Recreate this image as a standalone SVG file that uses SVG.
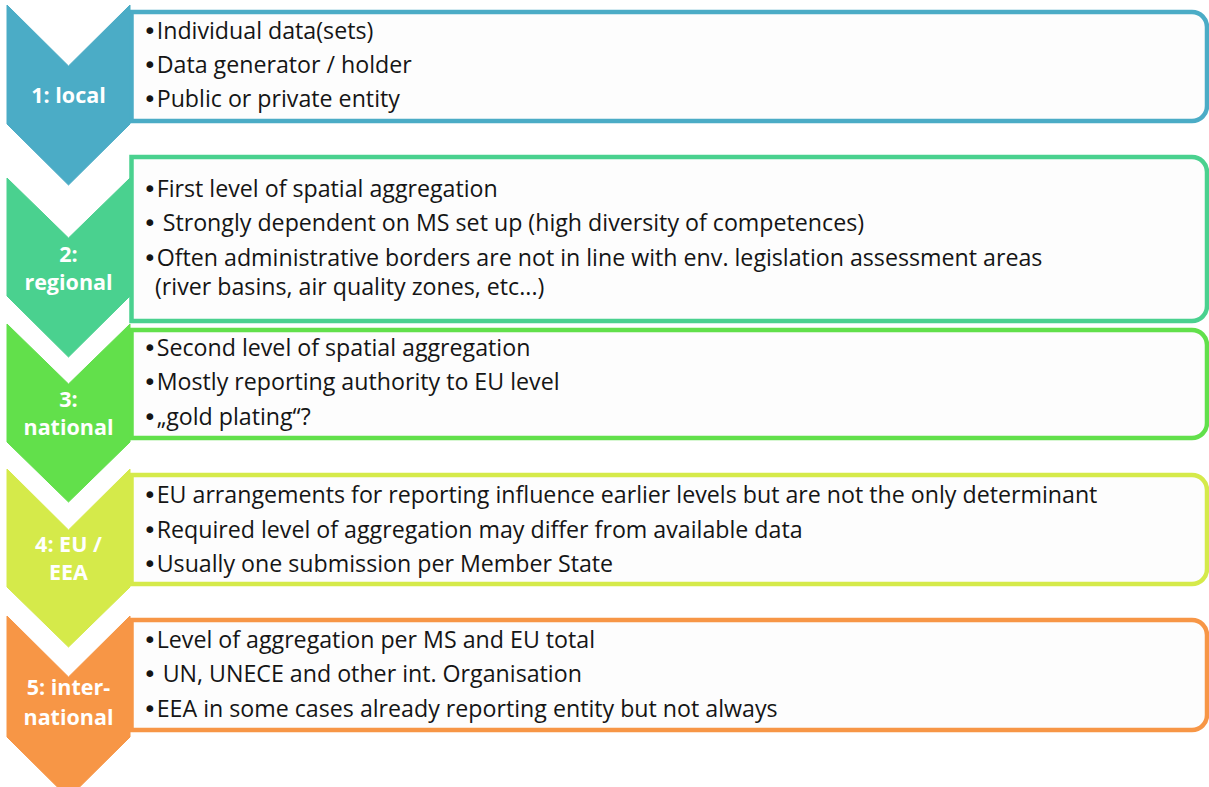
<svg xmlns="http://www.w3.org/2000/svg" width="1209" height="787" viewBox="0 0 1209 787">
  <style>
    .box { fill: #fdfdfd; stroke-width: 4.5; }
    .chev { stroke: none; }
    .lbl { font-family: "Open Sans", Lato, "Liberation Sans", sans-serif; font-weight: 700; font-size: 21.5px; fill: #ffffff; text-anchor: middle; }
    .item { font-family: "Open Sans", Lato, "Liberation Sans", sans-serif; font-size: 23.2px; fill: #151515; }
    .b { font-family: "DejaVu Sans", sans-serif; }
    .c1 { fill: #4bacc6; stroke: #4bacc6; }
    .c2 { fill: #4ad18f; stroke: #4ad18f; }
    .c3 { fill: #62e04b; stroke: #62e04b; }
    .c4 { fill: #d5ea4a; stroke: #d5ea4a; }
    .c5 { fill: #f79646; stroke: #f79646; }
  </style>
  <rect width="1209" height="787" fill="#ffffff"/>

  <g id="connectors"></g>

  <!-- level 1 -->
  <g id="level-1-local">
    <path class="box c1" style="fill:#fdfdfd" d="M131.5,12 H1192 A15,15 0 0 1 1207,27 V106 A15,15 0 0 1 1192,121 H131.5 Z"/>
    <path class="chev c1" d="M7,5 L68.5,66 L130,5 V124 L68.5,185 L7,124 Z"/>
    <text class="lbl" x="68.5" y="103">1: local</text>
    <text class="item" x="143" y="39"><tspan class="b">•</tspan>Individual data(sets)</text>
    <text class="item" x="143" y="73"><tspan class="b">•</tspan>Data generator / holder</text>
    <text class="item" x="143" y="107"><tspan class="b">•</tspan>Public or private entity</text>
  </g>

  <!-- level 2 -->
  <g id="level-2-regional">
    <path class="box c2" style="fill:#fdfdfd" d="M131.5,157 H1192 A15,15 0 0 1 1207,172 V306 A15,15 0 0 1 1192,321 H131.5 Z"/>
    <path class="chev c2" d="M7,178 L68.5,238 L130,178 V296 L68.5,357 L7,296 Z"/>
    <text class="lbl" x="68.5" y="262">2:</text>
    <text class="lbl" x="68.5" y="290">regional</text>
    <text class="item" x="143" y="197"><tspan class="b">•</tspan>First level of spatial aggregation</text>
    <text class="item" x="143" y="231"><tspan class="b">•</tspan> Strongly dependent on MS set up (high diversity of competences)</text>
    <text class="item" x="143" y="266"><tspan class="b">•</tspan>Often administrative borders are not in line with env. legislation assessment areas</text>
    <text class="item" x="155" y="295">(river basins, air quality zones, etc...)</text>
  </g>

  <!-- level 3 -->
  <g id="level-3-national">
    <path class="box c3" style="fill:#fdfdfd" d="M131.5,330 H1192 A15,15 0 0 1 1207,345 V423 A15,15 0 0 1 1192,438 H131.5 Z"/>
    <path class="chev c3" d="M7,324 L68.5,384 L130,324 V442 L68.5,502 L7,442 Z"/>
    <text class="lbl" x="68.5" y="407">3:</text>
    <text class="lbl" x="68.5" y="435">national</text>
    <text class="item" x="143" y="356"><tspan class="b">•</tspan>Second level of spatial aggregation</text>
    <text class="item" x="143" y="390"><tspan class="b">•</tspan>Mostly reporting authority to EU level</text>
    <text class="item" x="143" y="425"><tspan class="b">•</tspan>„gold plating“?</text>
  </g>

  <!-- level 4 -->
  <g id="level-4-eu-eea">
    <path class="box c4" style="fill:#fdfdfd" d="M131.5,475 H1192 A15,15 0 0 1 1207,490 V569 A15,15 0 0 1 1192,584 H131.5 Z"/>
    <path class="chev c4" d="M7,469 L68.5,530 L130,469 V587 L68.5,647 L7,587 Z"/>
    <text class="lbl" x="68.5" y="552">4: EU /</text>
    <text class="lbl" x="68.5" y="580">EEA</text>
    <text class="item" x="143" y="503"><tspan class="b">•</tspan>EU arrangements for reporting influence earlier levels but are not the only determinant</text>
    <text class="item" x="143" y="538"><tspan class="b">•</tspan>Required level of aggregation may differ from available data</text>
    <text class="item" x="143" y="572"><tspan class="b">•</tspan>Usually one submission per Member State</text>
  </g>

  <!-- level 5 -->
  <g id="level-5-international">
    <path class="box c5" style="fill:#fdfdfd" d="M131.5,620 H1192 A15,15 0 0 1 1207,635 V715 A15,15 0 0 1 1192,730 H131.5 Z"/>
    <path class="chev c5" d="M7,616 L68.5,677 L130,616 V737 L68.5,798 L7,737 Z"/>
    <text class="lbl" x="68.5" y="695">5: inter-</text>
    <text class="lbl" x="68.5" y="725">national</text>
    <text class="item" x="143" y="648"><tspan class="b">•</tspan>Level of aggregation per MS and EU total</text>
    <text class="item" x="143" y="682"><tspan class="b">•</tspan> UN, UNECE and other int. Organisation</text>
    <text class="item" x="143" y="717"><tspan class="b">•</tspan>EEA in some cases already reporting entity but not always</text>
  </g>
</svg>
